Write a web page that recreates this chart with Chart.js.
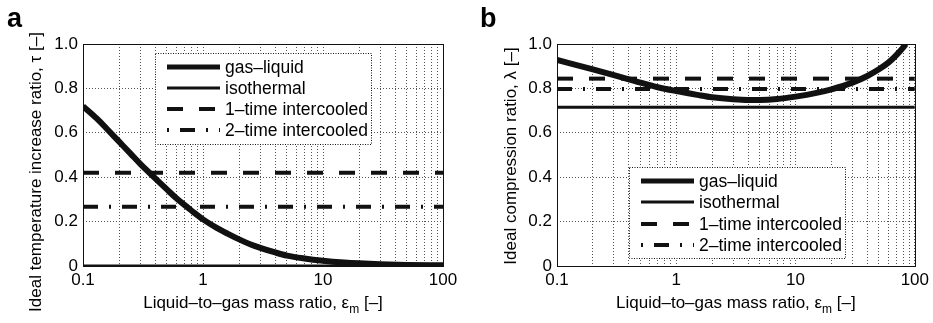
<!DOCTYPE html>
<html>
<head>
<meta charset="utf-8">
<script src="https://cdn.jsdelivr.net/npm/chart.js@4.4.1/dist/chart.umd.min.js"></script>
<style>
  body { margin: 0; background: #fff; width: 933px; height: 323px; overflow: hidden; position: relative; }
  canvas { position: absolute; top: 0; }
  #ca { left: 0; }
  #cb { left: 466px; }
</style>
</head>
<body>
<canvas id="ca" width="466" height="323"></canvas>
<canvas id="cb" width="467" height="323"></canvas>
<script>
// ---- data ----
const xRange = [0.1, 100];
const xTickValues = [0.1,0.2,0.3,0.4,0.5,0.6,0.7,0.8,0.9,1,2,3,4,5,6,7,8,9,10,20,30,40,50,60,70,80,90,100];
const xMajorTicks = [0.1, 1, 10, 100];
const seriesLabels = ['gas\u2013liquid', 'isothermal', '1\u2013time intercooled', '2\u2013time intercooled'];

// panel a: temperature increase ratio
const epsA = [0.1,0.13,0.16,0.2,0.25,0.3,0.4,0.5,0.6,0.7,0.8,1,1.3,1.6,2,2.5,3,4,5,7,10,15,20,30,50,100];
const tauGasLiquid = [0.72,0.665,0.615,0.56,0.505,0.46,0.395,0.345,0.305,0.275,0.25,0.21,0.172,0.146,0.12,0.097,0.082,0.061,0.047,0.034,0.024,0.016,0.012,0.008,0.005,0.003];
const tauIsothermal = 0;
const tauOneTime = 0.42;
const tauTwoTime = 0.267;

// panel b: compression ratio
const epsB = [0.1,0.2,0.3,0.4,0.5,0.7,1,1.5,2,3,4,5,7,10,15,20,30,40,50,60,70,80,84];
const lamGasLiquid = [0.928,0.886,0.86,0.841,0.826,0.805,0.788,0.771,0.76,0.751,0.748,0.748,0.752,0.763,0.78,0.796,0.826,0.856,0.886,0.916,0.95,0.985,1.0];
const lamIsothermal = 0.715;
const lamOneTime = 0.844;
const lamTwoTime = 0.797;

// ---- chart ----
const fam = '"Liberation Sans", Arial, Helvetica, sans-serif';
Chart.defaults.font.family = fam;
Chart.defaults.font.size = 17;
Chart.defaults.color = '#000';

function flat(v) {
  return [{ x: xRange[0], y: v }, { x: xRange[1], y: v }];
}

function makeDatasets(eps, gl, iso, one, two) {
  return [
    { label: seriesLabels[0], data: eps.map((e, i) => ({ x: e, y: gl[i] })),
      borderColor: '#111', borderWidth: 6, legendWidth: 5, cubicInterpolationMode: 'monotone' },
    { label: seriesLabels[1], data: flat(iso), borderColor: '#111', borderWidth: 3 },
    { label: seriesLabels[2], data: flat(one), borderColor: '#111', borderWidth: 4, borderDash: [16, 16] },
    { label: seriesLabels[3], data: flat(two), borderColor: '#111', borderWidth: 4, borderDash: [15, 11, 2, 11], legendOffset: 26 }
  ];
}

const decor = {
  id: 'decor',
  afterDatasetsDraw(chart, args, o) {
    const ctx = chart.ctx, a = chart.chartArea;
    ctx.save();
    // axes box
    ctx.setLineDash([]);
    ctx.strokeStyle = '#111';
    ctx.lineWidth = 1;
    ctx.strokeRect(Math.round(a.left) + 0.5, Math.round(a.top) + 0.5,
      Math.round(a.right - a.left), Math.round(a.bottom - a.top));

    // legend
    const L = o.legend;
    const bx = Math.round(a.left + L.dx);
    const by = L.top != null ? Math.round(a.top + L.top) : Math.round(a.bottom - L.bottom - L.h);
    ctx.fillStyle = '#fff';
    ctx.fillRect(bx, by, L.w, L.h);
    ctx.setLineDash([1, 1.5]);
    ctx.strokeRect(bx + 0.5, by + 0.5, L.w, L.h);
    ctx.font = '17.5px ' + fam;
    ctx.textBaseline = 'middle';
    ctx.textAlign = 'left';
    chart.data.datasets.forEach((ds, i) => {
      const y = Math.round(by + L.first + i * L.step);
      ctx.setLineDash(ds.borderDash || []);
      ctx.lineDashOffset = ds.legendOffset || 0;
      ctx.lineWidth = ds.legendWidth || ds.borderWidth;
      ctx.beginPath();
      ctx.moveTo(bx + 12, y);
      ctx.lineTo(bx + 65, y);
      ctx.stroke();
      ctx.setLineDash([]);
      ctx.fillStyle = '#000';
      ctx.fillText(ds.label, bx + 70, y + 1);
    });

    // x title with subscript
    ctx.fillStyle = '#000';
    ctx.textBaseline = 'alphabetic';
    const p1 = 'Liquid\u2013to\u2013gas mass ratio, \u03b5', sub = 'm', p2 = ' [\u2013]';
    ctx.font = '17px ' + fam;
    const w1 = ctx.measureText(p1).width, w2 = ctx.measureText(p2).width;
    ctx.font = '12px ' + fam;
    const ws = ctx.measureText(sub).width;
    const x0 = (a.left + a.right) / 2 - (w1 + ws + w2) / 2;
    const yb = 308;
    ctx.font = '17px ' + fam;
    ctx.fillText(p1, x0, yb);
    ctx.font = '12px ' + fam;
    ctx.fillText(sub, x0 + w1, yb + 5);
    ctx.font = '17px ' + fam;
    ctx.fillText(p2, x0 + w1 + ws, yb);

    // y title
    ctx.save();
    ctx.translate(o.yTitleX, o.yTitleY);
    ctx.rotate(-Math.PI / 2);
    ctx.textAlign = 'center';
    ctx.textBaseline = 'middle';
    ctx.fillText(o.yTitle, 0, 0);
    ctx.restore();

    // panel letter
    ctx.font = 'bold 27px ' + fam;
    ctx.textAlign = 'left';
    ctx.fillText(o.tag, o.tagX, 27);
    ctx.restore();
  }
};

function makeChart(id, datasets, yWidth, padRight, deco) {
  return new Chart(document.getElementById(id), {
    type: 'line',
    data: { datasets },
    plugins: [decor],
    options: {
      responsive: false,
      animation: false,
      layout: { padding: { top: 44, right: padRight, bottom: 0, left: 0 } },
      elements: { point: { radius: 0 } },
      plugins: { legend: { display: false }, tooltip: { enabled: false }, decor: deco },
      scales: {
        x: {
          type: 'logarithmic',
          min: xRange[0], max: xRange[1],
          afterBuildTicks: (s) => { s.ticks = xTickValues.map(v => ({ value: v })); },
          afterFit: (s) => { s.height = 57; },
          ticks: {
            autoSkip: false, maxRotation: 0, padding: 4,
            callback: (v) => xMajorTicks.includes(v) ? String(v) : ''
          },
          grid: { color: '#555', lineWidth: 1, drawTicks: false },
          border: { display: false, dash: [1, 2] }
        },
        y: {
          min: 0, max: 1,
          afterFit: (s) => { s.width = yWidth; },
          ticks: { stepSize: 0.2, padding: 5, callback: (v) => v === 0 ? '0' : v.toFixed(1) },
          grid: { color: '#555', lineWidth: 1, drawTicks: false },
          border: { display: false, dash: [1, 2] }
        }
      }
    }
  });
}

makeChart('ca', makeDatasets(epsA, tauGasLiquid, tauIsothermal, tauOneTime, tauTwoTime), 83, 23, {
  tag: 'a', tagX: 7,
  yTitle: 'Ideal temperature increase ratio, \u03c4 [\u2013]', yTitleX: 36, yTitleY: 172,
  legend: { dx: 72, top: 9, w: 216, h: 91, first: 14, step: 21 }
});

makeChart('cb', makeDatasets(epsB, lamGasLiquid, lamIsothermal, lamOneTime, lamTwoTime), 91, 16, {
  tag: 'b', tagX: 14,
  yTitle: 'Ideal compression ratio, \u03bb [\u2013]', yTitleX: 45, yTitleY: 156,
  legend: { dx: 72, bottom: 8, w: 216, h: 91, first: 14, step: 21.3 }
});
</script>
</body>
</html>
